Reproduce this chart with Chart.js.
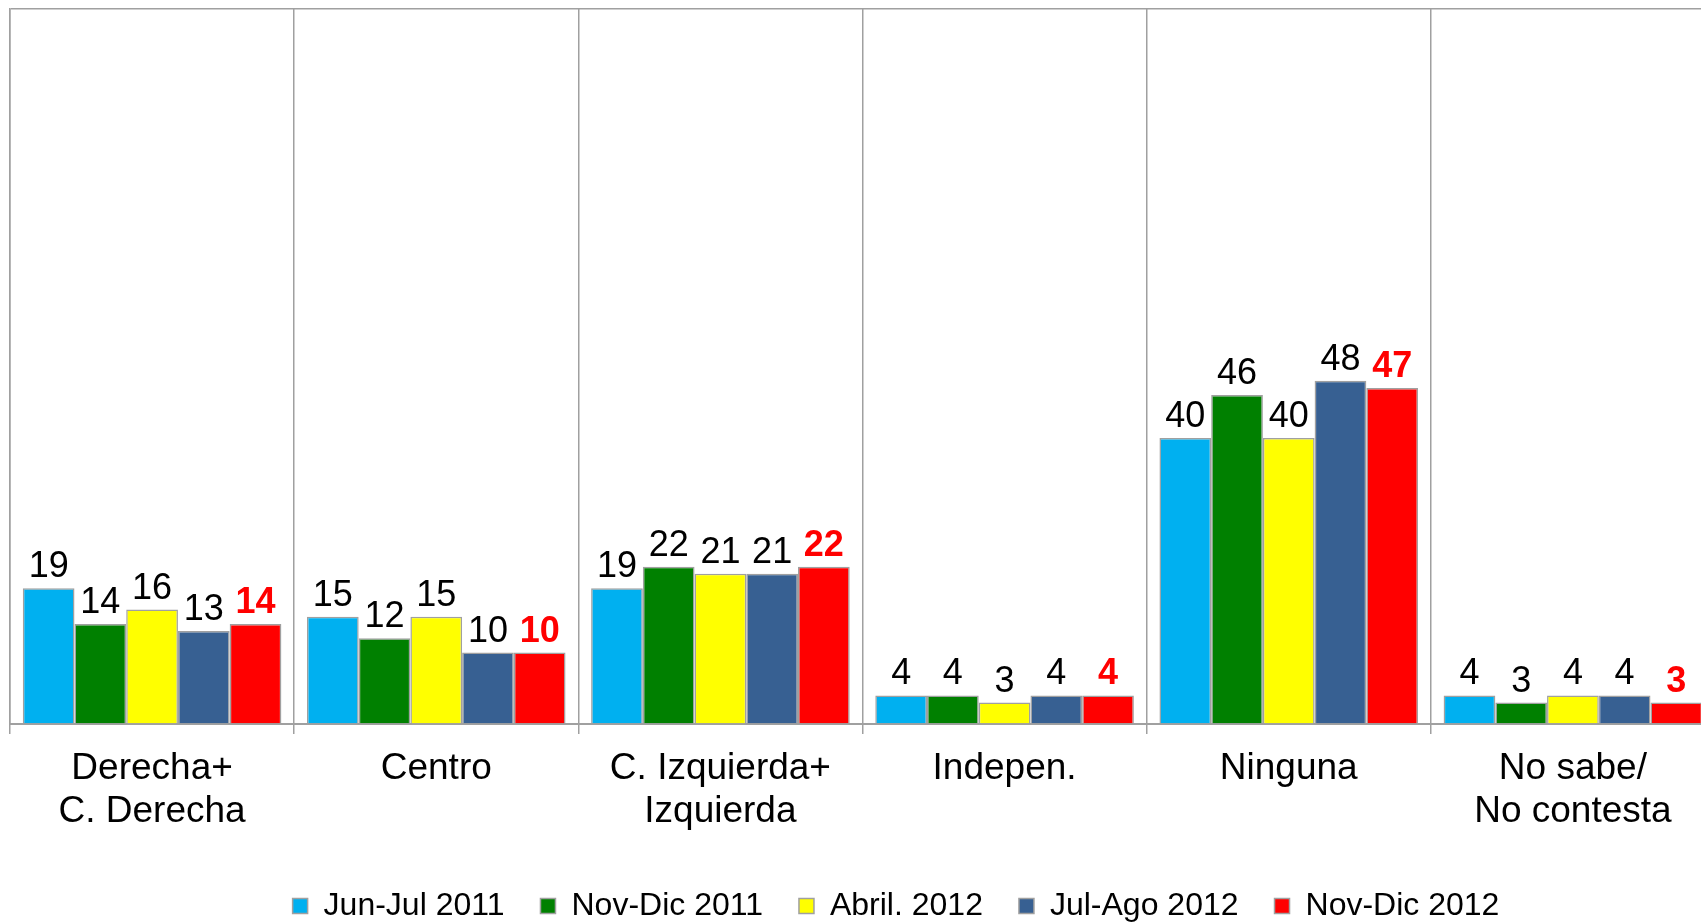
<!DOCTYPE html>
<html><head><meta charset="utf-8">
<script src="https://cdn.jsdelivr.net/npm/chart.js@4"></script>
<style>
html,body{margin:0;padding:0;overflow:hidden;background:#fff;width:1701px;height:923px;}
#wrap{position:absolute;left:0;top:0;}
</style></head><body>
<div id="wrap"><canvas id="c" width="1782" height="932"></canvas></div>
<script>
const categories = [['Derecha+','C. Derecha'],'Centro',['C. Izquierda+','Izquierda'],'Indepen.','Ninguna',['No sabe/','No contesta']];
const seriesNames = ['Jun-Jul 2011','Nov-Dic 2011','Abril. 2012','Jul-Ago 2012','Nov-Dic 2012'];
const junJul2011 = [19,15,19,4,40,4];
const novDic2011 = [14,12,22,4,46,3];
const abril2012  = [16,15,21,3,40,4];
const julAgo2012 = [13,10,21,4,48,4];
const novDic2012 = [14,10,22,4,47,3];
const yMin = 0, yMax = 100;

const seriesValues = [junJul2011, novDic2011, abril2012, julAgo2012, novDic2012];
const seriesColors = ['#00B0F0','#008000','#FFFF00','#376092','#FF0000'];
const FONT = '"Liberation Sans", Arial, sans-serif';
const GRAY = '#A0A0A0';

const valueLabels = {
  id: 'valueLabels',
  afterDatasetsDraw(chart) {
    const ctx = chart.ctx;
    const n = chart.data.datasets.length;
    chart.data.datasets.forEach((ds, i) => {
      const meta = chart.getDatasetMeta(i);
      const last = i === n - 1;
      ctx.save();
      ctx.font = (last ? 'bold ' : '') + '36px ' + FONT;
      ctx.fillStyle = last ? '#FF0000' : '#000000';
      ctx.textAlign = 'center';
      ctx.textBaseline = 'alphabetic';
      meta.data.forEach((el, j) => {
        ctx.fillText(String(ds.data[j]), el.x, el.y - 11);
      });
      ctx.restore();
    });
  }
};

new Chart(document.getElementById('c'), {
  type: 'bar',
  data: {
    labels: categories,
    datasets: seriesNames.map((name, i) => ({
      label: name,
      data: seriesValues[i],
      backgroundColor: seriesColors[i],
      borderColor: GRAY,
      borderWidth: 1.5,
      barPercentage: 1,
      categoryPercentage: 0.91,
      yAxisID: 'y'
    }))
  },
  options: {
    responsive: false,
    animation: false,
    devicePixelRatio: 1,
    layout: { padding: { left: 10, top: 9, right: 0, bottom: 0 } },
    plugins: {
      tooltip: { enabled: false },
      legend: {
        position: 'bottom',
        labels: {
          boxWidth: 15, boxHeight: 15, padding: 36,
          color: '#000', font: { family: FONT, size: 32 }
        }
      }
    },
    scales: {
      x: {
        grid: { offset: true, color: GRAY, lineWidth: 1.5, tickLength: 10 },
        border: { color: GRAY, width: 2 },
        ticks: { color: '#000', font: { family: FONT, size: 37, lineHeight: 1.15 }, padding: 14, maxRotation: 0, autoSkip: false },
        afterFit: s => { s.height = 130; }
      },
      y: {
        min: yMin, max: yMax,
        ticks: { display: false },
        grid: { drawTicks: false, lineWidth: 1.5, color: c => (c.tick && c.tick.value === yMax) ? GRAY : 'rgba(0,0,0,0)' },
        border: { color: GRAY, width: 1.5 },
        afterFit: s => { s.width = 0; }
      },
      y2: {
        position: 'right',
        ticks: { display: false },
        grid: { display: false },
        border: { display: false },
        afterFit: s => { s.width = 67; }
      }
    }
  },
  plugins: [valueLabels]
});
</script>
</body></html>
